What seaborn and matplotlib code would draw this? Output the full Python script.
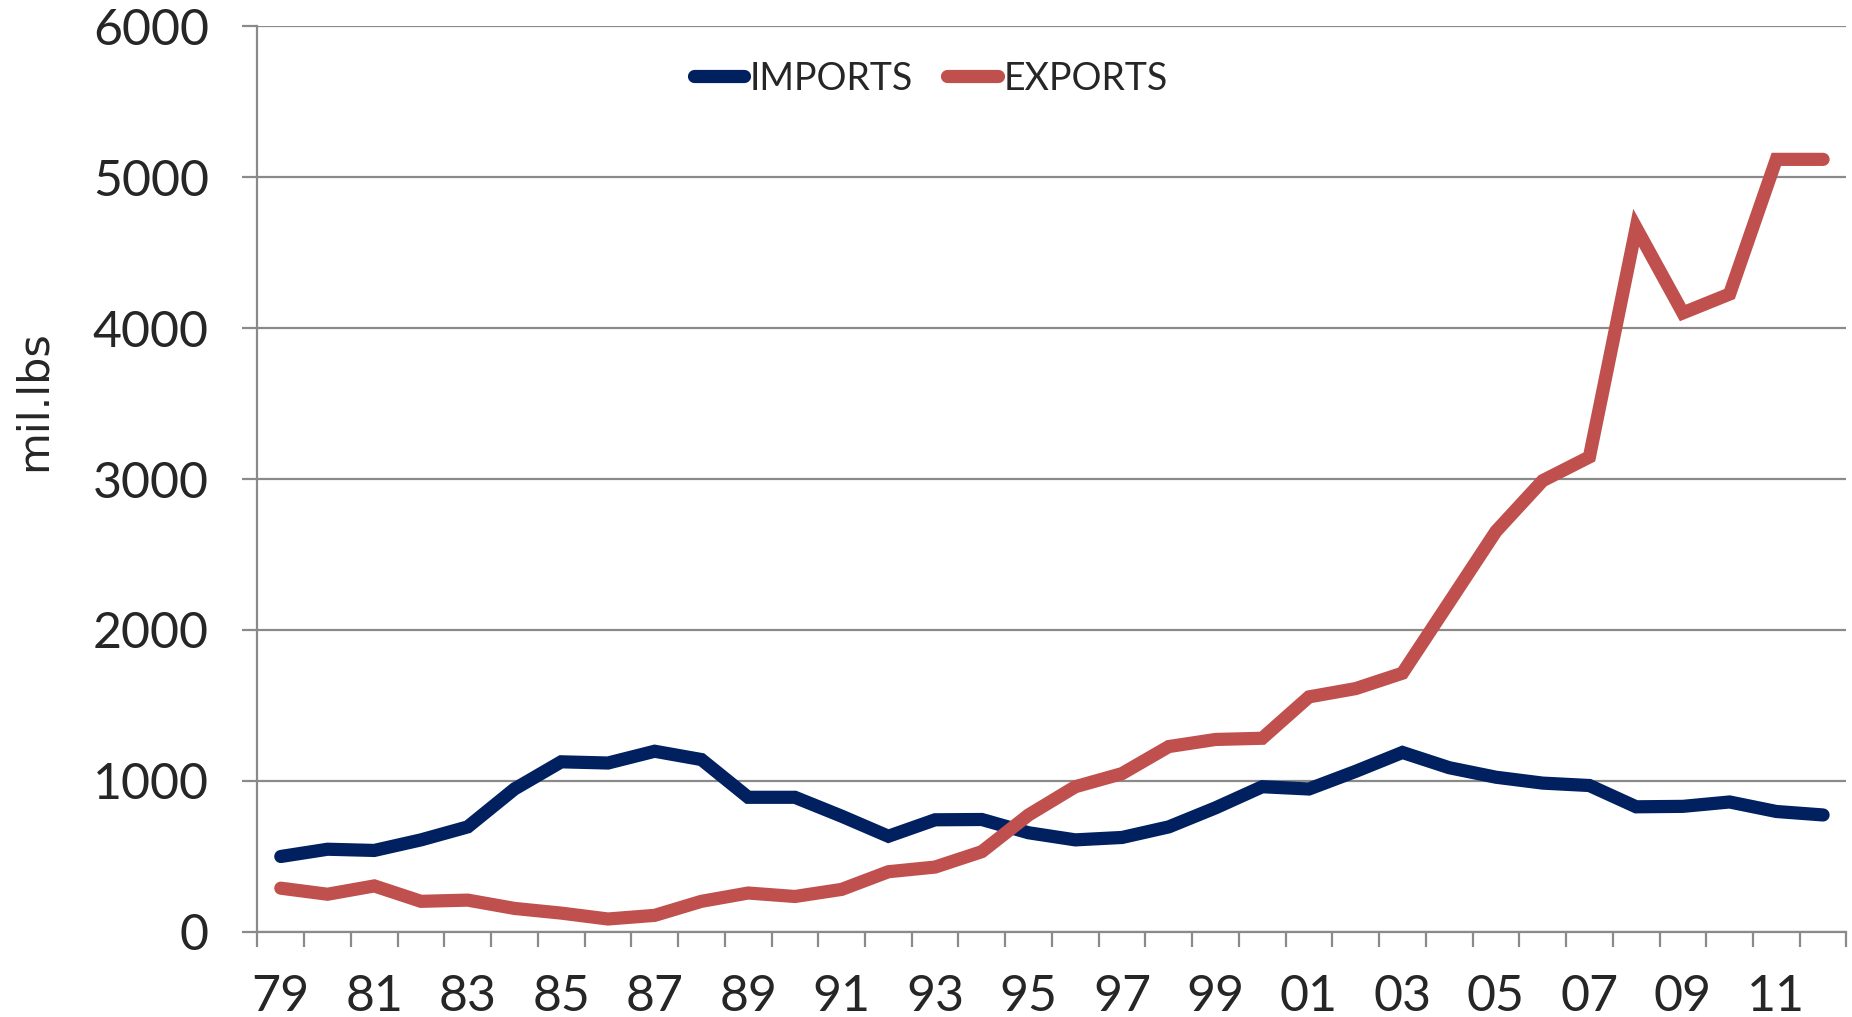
import numpy as np
import pandas as pd
import seaborn as sns
import matplotlib.pyplot as plt
from matplotlib.ticker import FixedLocator

years = ['79', '80', '81', '82', '83', '84', '85', '86', '87', '88', '89', '90',
         '91', '92', '93', '94', '95', '96', '97', '98', '99', '00', '01', '02',
         '03', '04', '05', '06', '07', '08', '09', '10', '11', '12']
imports = [500, 548, 540, 610, 696, 947, 1127, 1119, 1197, 1142, 892, 892,
           767, 634, 743, 745, 657, 610, 626, 696, 822, 962, 947, 1064,
           1189, 1088, 1025, 986, 970, 829, 832, 861, 798, 775]
exports = [290, 250, 305, 203, 211, 156, 125, 86, 110, 203, 258, 235,
           282, 399, 430, 532, 775, 962, 1049, 1228, 1275, 1283, 1557, 1612,
           1714, 2183, 2653, 2989, 3146, 4664, 4100, 4225, 5117, 5117]
series = ['IMPORTS', 'EXPORTS']
colors = ['#002060', '#C0504D']

idx = np.arange(len(years))
df = pd.DataFrame({'pos': np.concatenate([idx, idx]),
                   'value': imports + exports,
                   'series': ['IMPORTS'] * len(years) + ['EXPORTS'] * len(years)})

sns.set_style('white')
plt.rcParams['font.family'] = ['Lato', 'DejaVu Sans']

fig = plt.figure(figsize=(18.52, 10.17), dpi=100)
ax = fig.add_axes([0.139, 0.0836, 0.858, 0.8908])

sns.lineplot(data=df, x='pos', y='value', hue='series', hue_order=series,
             palette=colors, linewidth=9.5, ax=ax, legend=False,
             solid_capstyle='round', solid_joinstyle='miter', zorder=3)

ax.set_xlim(-0.5, len(years) - 0.5)
ax.set_ylim(0, 6000)
ax.set_yticks(range(0, 6001, 1000))
ax.yaxis.grid(True, color='#8a8a8a', linewidth=1.6)
ax.xaxis.grid(False)

for s in ['top', 'right']:
    ax.spines[s].set_visible(False)
ax.spines['left'].set_color('#8a8a8a')
ax.spines['left'].set_linewidth(1.6)
ax.spines['bottom'].set_color('#8a8a8a')
ax.spines['bottom'].set_linewidth(1.6)

ax.set_xticks(idx[::2])
ax.set_xticklabels(years[::2])
ax.xaxis.set_minor_locator(FixedLocator(np.arange(-0.5, len(years), 1)))
ax.tick_params(axis='x', which='major', length=0, pad=30, labelsize=36)
ax.tick_params(axis='x', which='minor', bottom=True, length=11, width=1.6,
               color='#8a8a8a', direction='out')
ax.tick_params(axis='y', which='major', left=True, length=11, width=1.6,
               color='#8a8a8a', pad=24, labelsize=36)

ax.set_xlabel('')
ax.set_ylabel('mil.lbs', fontsize=31, family=['DejaVu Sans'])
ax.yaxis.set_label_coords(-0.1276, 0.587)

handles = [plt.Line2D([], [], color=c, linewidth=9.5, solid_capstyle='round')
           for c in colors]
fig.legend(handles, series, loc='center', bbox_to_anchor=(0.5025, 0.9227),
           ncol=2, frameon=False, handlelength=1.35, handletextpad=0.15,
           columnspacing=0.9, prop={'family': ['Lato', 'DejaVu Sans'], 'size': 27})

fig.savefig('out.png', dpi=100)
